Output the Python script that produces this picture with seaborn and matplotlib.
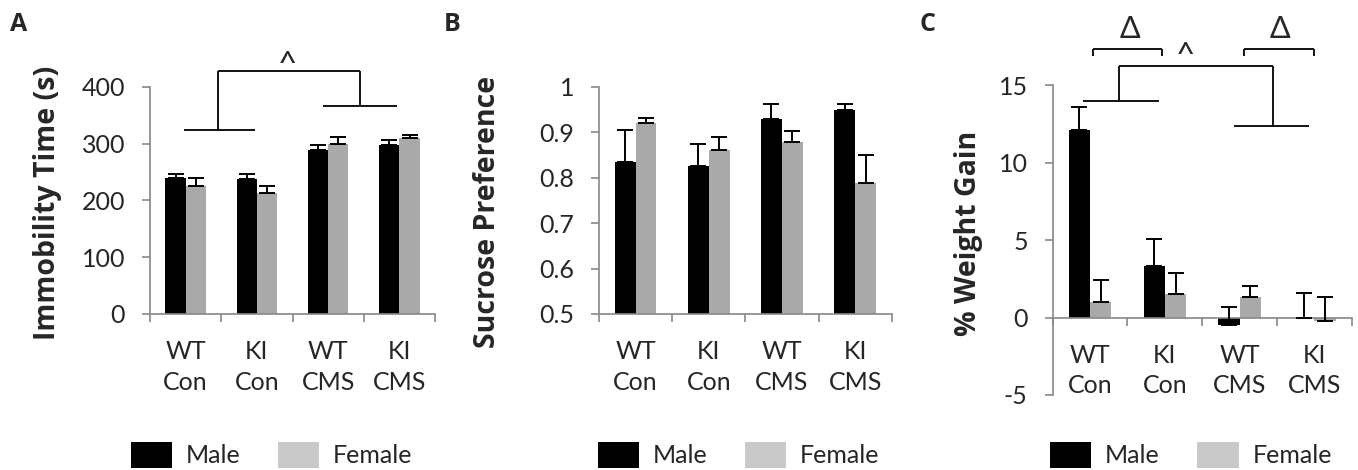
import numpy as np
import pandas as pd
import matplotlib
matplotlib.use("Agg")
import matplotlib.pyplot as plt
from matplotlib.patches import Patch
import seaborn as sns

# ---- data ----
groups = ["WT\nCon", "KI\nCon", "WT\nCMS", "KI\nCMS"]
sexes = ["Male", "Female"]

immob_male = [239, 237, 289, 297]
immob_female = [225, 213, 299, 309]
immob_male_err = [7, 9, 9, 9]
immob_female_err = [14, 13, 12, 6]

sucrose_male = [0.835, 0.826, 0.930, 0.948]
sucrose_female = [0.920, 0.861, 0.878, 0.789]
sucrose_male_err = [0.070, 0.049, 0.033, 0.014]
sucrose_female_err = [0.011, 0.028, 0.025, 0.060]

weight_male = [12.1, 3.3, -0.47, 0.0]
weight_female = [1.03, 1.5, 1.35, -0.24]
weight_male_err = [1.46, 1.76, 1.16, 1.55]
weight_female_err = [1.38, 1.35, 0.69, 1.59]

BAR_COLORS = {"Male": "#000000", "Female": "#a9a9a9"}
LEGEND_COLORS = ["#000000", "#c9c9c9"]
AXIS_GRAY = "#888888"

sns.set_style("white")
plt.rcParams["font.family"] = ["Lato", "DejaVu Sans"]
plt.rcParams["axes.unicode_minus"] = False

TICK_FS = 18
LABEL_FS = 20.5
BOLD_FAMILY = ["Open Sans", "DejaVu Sans"]


def long_df(male, female):
    return pd.DataFrame({
        "group": groups * 2,
        "sex": ["Male"] * 4 + ["Female"] * 4,
        "value": male + female,
    })


def draw_panel(ax, male, female, male_err, female_err, ylim, yticks, yticklabels,
               ylabel, zero_axis=False):
    df = long_df(male, female)
    sns.barplot(data=df, x="group", y="value", hue="sex", order=groups,
                hue_order=sexes, palette=BAR_COLORS, width=0.57,
                errorbar=None, ax=ax, legend=False, saturation=1,
                edgecolor="none", linewidth=0)
    for cont, errs in zip(ax.containers, [male_err, female_err]):
        xs = [b.get_x() + b.get_width() / 2 for b in cont]
        ys = [b.get_y() + b.get_height() for b in cont]
        ax.errorbar(xs, ys, yerr=[np.zeros(len(errs)), errs], fmt="none",
                    ecolor="black", elinewidth=1.4, capsize=5.5, capthick=1.4,
                    zorder=3)

    for s in ["top", "right"]:
        ax.spines[s].set_visible(False)
    if zero_axis:
        ax.spines["bottom"].set_position(("data", 0))
    for s in ["left", "bottom"]:
        ax.spines[s].set_color(AXIS_GRAY)
        ax.spines[s].set_linewidth(1.2)

    ax.set_xlim(-0.5, 3.5)
    ax.set_ylim(*ylim)
    ax.set_yticks(yticks)
    ax.set_yticklabels(yticklabels, fontsize=TICK_FS)
    ax.set_xticks(range(4))
    ax.set_xticklabels(groups, fontsize=TICK_FS)
    for t in ax.get_xticklabels():
        t.set_linespacing(1.4)
    ax.set_xticks([-0.5, 0.5, 1.5, 2.5, 3.5], minor=True)
    ax.tick_params(axis="x", which="major", length=0, pad=19)
    ax.tick_params(axis="x", which="minor", length=6, width=1.2, color=AXIS_GRAY,
                   direction="out", bottom=True)
    ax.tick_params(axis="y", which="major", length=6, width=1.2, color=AXIS_GRAY,
                   direction="out", left=True, pad=12)
    ax.set_xlabel("")
    ax.set_ylabel(ylabel, fontsize=LABEL_FS, fontweight="bold", family=BOLD_FAMILY)


def bracket_lines(ax, segs):
    for (x0, x1), (y0, y1) in segs:
        ax.plot([x0, x1], [y0, y1], color="black", lw=1.3, clip_on=False,
                solid_capstyle="butt", zorder=4)


fig = plt.figure(figsize=(13.58, 4.70), dpi=100)
axA = fig.add_axes([0.1105, 0.332, 0.2098, 0.4835])
axB = fig.add_axes([0.4411, 0.332, 0.2155, 0.4835])
axC = fig.add_axes([0.7752, 0.1596, 0.2202, 0.6594])

# A
draw_panel(axA, immob_male, immob_female, immob_male_err, immob_female_err,
           (0, 400), [0, 100, 200, 300, 400], ["0", "100", "200", "300", "400"],
           "Immobility Time (s)")
bracket_lines(axA, [((-0.03, 0.97), (323, 323)), ((0.45, 0.45), (323, 427.5)),
                    ((0.45, 2.45), (427.5, 427.5)), ((2.45, 2.45), (427.5, 366.5)),
                    ((1.93, 2.97), (366.5, 366.5))])
axA.text(1.43, 437, "^", ha="center", va="center", fontsize=24, clip_on=False)
axA.yaxis.set_label_coords(-0.31, 0.488)

# B
draw_panel(axB, sucrose_male, sucrose_female, sucrose_male_err, sucrose_female_err,
           (0.5, 1.0), [0.5, 0.6, 0.7, 0.8, 0.9, 1.0],
           ["0.5", "0.6", "0.7", "0.8", "0.9", "1"], "Sucrose Preference")
axB.yaxis.set_label_coords(-0.33, 0.449)

# C
draw_panel(axC, weight_male, weight_female, weight_male_err, weight_female_err,
           (-5, 15), [-5, 0, 5, 10, 15], ["-5", "0", "5", "10", "15"], "% Weight Gain",
           zero_axis=True)
bracket_lines(axC, [((-0.09, 0.92), (13.98, 13.98)), ((0.38, 0.38), (13.98, 16.2)),
                    ((0.38, 2.44), (16.2, 16.2)), ((2.44, 2.44), (16.2, 12.34)),
                    ((1.92, 2.93), (12.34, 12.34)),
                    ((0.045, 0.045), (16.9, 17.3)), ((0.045, 0.96), (17.3, 17.3)),
                    ((0.96, 0.96), (17.3, 16.9)),
                    ((2.06, 2.06), (16.9, 17.3)), ((2.06, 2.99), (17.3, 17.3)),
                    ((2.99, 2.99), (17.3, 16.9))])
axC.text(1.27, 16.8, "^", ha="center", va="center", fontsize=24, clip_on=False)
axC.text(0.53, 18.6, "Δ", ha="center", va="center", fontsize=22, clip_on=False)
axC.text(2.54, 18.6, "Δ", ha="center", va="center", fontsize=22, clip_on=False)
axC.yaxis.set_label_coords(-0.233, 0.523)

# legends
handles = [Patch(facecolor=c, edgecolor="none") for c in LEGEND_COLORS]
for ax, cx in [(axA, 0.2), (axB, 0.544), (axC, 0.877)]:
    ax.legend(handles, sexes, loc="center", bbox_to_anchor=(cx, 0.032),
              bbox_transform=fig.transFigure, ncol=2, frameon=False,
              fontsize=TICK_FS, handlelength=1.65, handleheight=1.2,
              handletextpad=0.55, columnspacing=1.5)

# panel letters
for x, lab in [(0.007, "A"), (0.327, "B"), (0.677, "C")]:
    fig.text(x, 0.975, lab, fontsize=18, fontweight="bold", family=BOLD_FAMILY,
             ha="left", va="top")

fig.savefig("out.png", dpi=100)
